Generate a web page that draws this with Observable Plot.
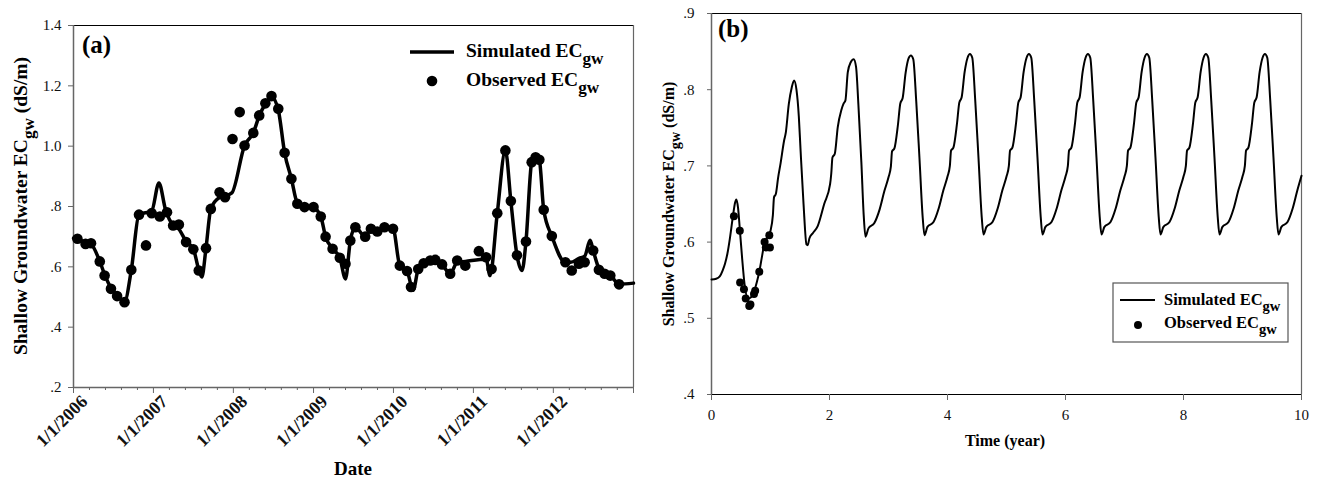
<!DOCTYPE html>
<html><head><meta charset="utf-8">
<script src="https://cdn.jsdelivr.net/npm/d3@7"></script>
<script src="https://cdn.jsdelivr.net/npm/@observablehq/plot@0.6"></script>
<style>
body{margin:0;background:#fff;}
#wrap{position:relative;width:1318px;height:479px;overflow:hidden;background:#fff;}
#pa{position:absolute;left:0;top:0;}
#pb{position:absolute;left:660px;top:0;}
#wrap svg, #wrap svg text{font-family:"Liberation Serif","Times New Roman",serif !important;}
</style></head><body><div id="wrap"><div id="pa"></div><div id="pb"></div></div>
<script>
// ---------- Panel (a) data ----------
const simDatesA = ["2006-01-01","2006-01-19","2006-02-25","2006-03-22","2006-05-01","2006-05-23","2006-06-21","2006-07-19","2006-08-22","2006-09-22","2006-10-27","2006-12-24","2007-01-26","2007-02-25","2007-04-01","2007-04-27","2007-05-30","2007-07-02","2007-07-27","2007-08-10","2007-08-29","2007-09-20","2007-10-30","2007-11-24","2007-12-25","2008-02-21","2008-04-01","2008-04-28","2008-05-26","2008-06-23","2008-07-24","2008-08-22","2008-09-22","2008-10-19","2008-11-21","2009-01-01","2009-02-03","2009-02-25","2009-03-29","2009-05-01","2009-05-27","2009-06-18","2009-07-11","2009-08-25","2009-09-20","2009-10-19","2009-11-21","2009-12-30","2010-01-30","2010-03-04","2010-04-01","2010-04-24","2010-05-19","2010-06-18","2010-07-11","2010-08-11","2010-09-17","2010-10-19","2010-11-25","2011-02-28","2011-03-18","2011-04-20","2011-05-27","2011-06-21","2011-07-19","2011-08-11","2011-08-29","2011-09-24","2011-10-12","2011-10-29","2011-11-18","2011-12-25","2012-02-25","2012-03-20","2012-04-27","2012-05-23","2012-06-17","2012-07-01","2012-07-27","2012-08-22","2012-09-17","2012-10-27","2013-01-01"];
const simValuesA = [0.695,0.693,0.680,0.675,0.618,0.575,0.530,0.505,0.485,0.590,0.773,0.785,0.878,0.790,0.737,0.725,0.685,0.660,0.590,0.566,0.662,0.792,0.830,0.835,0.845,1.002,1.044,1.100,1.140,1.163,1.120,0.978,0.892,0.812,0.798,0.795,0.767,0.700,0.660,0.630,0.560,0.687,0.731,0.700,0.726,0.710,0.727,0.726,0.604,0.586,0.522,0.593,0.612,0.621,0.623,0.608,0.577,0.615,0.618,0.625,0.571,0.778,0.986,0.818,0.638,0.588,0.684,0.947,0.970,0.955,0.789,0.702,0.615,0.615,0.628,0.635,0.688,0.654,0.595,0.577,0.571,0.543,0.546];
const obsDatesA = ["2006-01-19","2006-02-25","2006-03-22","2006-05-01","2006-05-23","2006-06-21","2006-07-19","2006-08-22","2006-09-22","2006-10-27","2006-11-28","2006-12-24","2007-01-30","2007-03-04","2007-04-01","2007-04-27","2007-05-30","2007-07-02","2007-07-27","2007-08-29","2007-09-20","2007-10-30","2007-11-24","2007-12-28","2008-01-30","2008-02-21","2008-04-01","2008-04-28","2008-05-26","2008-06-23","2008-07-24","2008-08-22","2008-09-22","2008-10-19","2008-11-21","2009-01-01","2009-02-03","2009-02-25","2009-03-29","2009-05-01","2009-05-27","2009-06-18","2009-07-11","2009-08-25","2009-09-20","2009-10-19","2009-11-21","2009-12-30","2010-01-30","2010-03-04","2010-03-22","2010-04-24","2010-05-19","2010-06-18","2010-07-11","2010-08-11","2010-09-17","2010-10-19","2010-11-25","2011-01-26","2011-02-28","2011-03-25","2011-04-20","2011-05-27","2011-06-21","2011-07-19","2011-08-29","2011-09-24","2011-10-12","2011-10-29","2011-11-18","2011-12-25","2012-02-25","2012-03-25","2012-04-27","2012-05-23","2012-07-01","2012-07-27","2012-08-22","2012-09-17","2012-10-27"];
const obsValuesA = [0.693,0.676,0.678,0.618,0.571,0.527,0.503,0.483,0.590,0.773,0.671,0.778,0.767,0.781,0.737,0.740,0.682,0.658,0.588,0.662,0.792,0.847,0.831,1.024,1.113,1.002,1.044,1.102,1.142,1.166,1.124,0.978,0.892,0.809,0.798,0.798,0.767,0.700,0.660,0.630,0.610,0.687,0.731,0.700,0.726,0.717,0.731,0.726,0.604,0.586,0.533,0.593,0.612,0.621,0.623,0.608,0.577,0.621,0.604,0.652,0.632,0.593,0.778,0.986,0.818,0.638,0.684,0.947,0.963,0.955,0.789,0.702,0.615,0.588,0.610,0.615,0.654,0.590,0.577,0.571,0.542];
const xTickDatesA = ["2006-01-01","2007-01-01","2008-01-01","2009-01-01","2010-01-01","2011-01-01","2012-01-01","2013-01-01"];
const xTickLabelsA = ["1/1/2006","1/1/2007","1/1/2008","1/1/2009","1/1/2010","1/1/2011","1/1/2012",""];
const yTicksA = [0.2,0.4,0.6,0.8,1.0,1.2,1.4];
const yTickLabelsA = [".2",".4",".6",".8","1.0","1.2","1.4"];

// ---------- Panel (b) data ----------
const simTimeB = [
 0,0.08,0.14,0.19,0.23,0.27,0.31,0.36,0.40,0.42,0.45,0.48,0.52,0.56,0.62,0.66,0.72,0.77,0.81,0.86,0.90,0.95,1.00,1.04,1.06,1.09,1.13,1.17,1.23,1.26,1.31,1.36,1.40,1.44,1.48,1.51,1.56,1.61,1.63,
 1.66,1.72,1.80,1.91,2.01,2.03,2.05,2.09,2.14,2.20,2.24,2.27,2.31,2.36,2.41,2.45,2.49,2.54,2.58,2.61,
 2.66,2.76,2.85,2.93,3.00,3.04,3.06,3.10,3.16,3.20,3.24,3.29,3.34,3.38,3.42,3.47,3.525,3.58,3.61,
 3.66,3.76,3.85,3.93,4.00,4.04,4.06,4.10,4.16,4.20,4.24,4.29,4.34,4.38,4.42,4.47,4.525,4.58,4.61,
 4.66,4.76,4.85,4.93,5.00,5.04,5.06,5.10,5.16,5.20,5.24,5.29,5.34,5.38,5.42,5.47,5.525,5.58,5.61,
 5.66,5.76,5.85,5.93,6.00,6.04,6.06,6.10,6.16,6.20,6.24,6.29,6.34,6.38,6.42,6.47,6.525,6.58,6.61,
 6.66,6.76,6.85,6.93,7.00,7.04,7.06,7.10,7.16,7.20,7.24,7.29,7.34,7.38,7.42,7.47,7.525,7.58,7.61,
 7.66,7.76,7.85,7.93,8.00,8.04,8.06,8.10,8.16,8.20,8.24,8.29,8.34,8.38,8.42,8.47,8.525,8.58,8.61,
 8.66,8.76,8.85,8.93,9.00,9.04,9.06,9.10,9.16,9.20,9.24,9.29,9.34,9.38,9.42,9.47,9.525,9.58,9.61,
 9.66,9.76,9.85,9.93,10.00];
const simValuesB = [
 0.551,0.552,0.555,0.563,0.572,0.585,0.604,0.632,0.652,0.656,0.645,0.617,0.578,0.545,0.526,0.527,0.535,0.548,0.561,0.583,0.600,0.607,0.615,0.635,0.659,0.663,0.685,0.703,0.733,0.744,0.781,0.803,0.812,0.800,0.765,0.720,0.650,0.597,0.596,
 0.605,0.612,0.621,0.650,0.676,0.690,0.711,0.716,0.751,0.773,0.782,0.786,0.823,0.836,0.840,0.830,0.780,0.705,0.635,0.607,
 0.618,0.625,0.643,0.667,0.685,0.699,0.719,0.723,0.754,0.782,0.789,0.822,0.841,0.845,0.840,0.785,0.710,0.632,0.609,
 0.620,0.626,0.644,0.668,0.686,0.700,0.720,0.724,0.755,0.783,0.790,0.823,0.842,0.847,0.842,0.786,0.711,0.633,0.610,
 0.620,0.626,0.644,0.668,0.686,0.700,0.720,0.724,0.755,0.783,0.790,0.823,0.842,0.847,0.842,0.786,0.711,0.633,0.610,
 0.620,0.626,0.644,0.668,0.686,0.700,0.720,0.724,0.755,0.783,0.790,0.823,0.842,0.847,0.842,0.786,0.711,0.633,0.610,
 0.620,0.626,0.644,0.668,0.686,0.700,0.720,0.724,0.755,0.783,0.790,0.823,0.842,0.847,0.842,0.786,0.711,0.633,0.610,
 0.620,0.626,0.644,0.668,0.686,0.700,0.720,0.724,0.755,0.783,0.790,0.823,0.842,0.847,0.842,0.786,0.711,0.633,0.610,
 0.620,0.626,0.644,0.668,0.686,0.700,0.720,0.724,0.755,0.783,0.790,0.823,0.842,0.847,0.842,0.786,0.711,0.633,0.610,
 0.620,0.626,0.644,0.668,0.687];
const obsTimeB = [0.38,0.48,0.485,0.55,0.58,0.64,0.66,0.72,0.74,0.81,0.90,0.92,0.98,0.99];
const obsValuesB = [0.634,0.615,0.547,0.538,0.526,0.516,0.518,0.532,0.536,0.561,0.600,0.593,0.609,0.593];
const xTicksB = [0,2,4,6,8,10];
const yTicksB = [0.4,0.5,0.6,0.7,0.8,0.9];
const yTickLabelsB = [".4",".5",".6",".7",".8",".9"];

const seriesNames = ["Simulated EC", "Observed EC"];
const subName = "gw";

// ---------- build ----------
const FONT = "Liberation Serif, Times New Roman, serif";
const parse = d3.utcParse("%Y-%m-%d");
const simA = simDatesA.map((d,i)=>({date: parse(d), v: simValuesA[i]}));
const obsA = obsDatesA.map((d,i)=>({date: parse(d), v: obsValuesA[i]}));
const xTickA = xTickDatesA.map((d,i)=>({date: parse(d), label: xTickLabelsA[i]}));
const x0 = parse(xTickDatesA[0]), x1 = parse(xTickDatesA[xTickDatesA.length-1]);
const minorA = [];
for (let y = 2006; y < 2013; y++) for (let k = 1; k < 5; k++) minorA.push(new Date(Date.UTC(y,0,1) + k*73*86400000));
const yLabA = new Map(yTicksA.map((d,i)=>[d, yTickLabelsA[i]]));
const AX = "#666";

const plotA = Plot.plot({
  width: 650, height: 479,
  marginLeft: 73, marginTop: 25, marginRight: 17, marginBottom: 92,
  style: {fontFamily: FONT, background: "white", color: "#111", overflow: "visible"},
  x: {type: "utc", domain: [x0, x1]},
  y: {domain: [0.2, 1.4]},
  marks: [
    Plot.ruleY([1.4], {stroke: "black", strokeWidth: 1.2}),
    Plot.ruleX([x1], {stroke: AX, strokeWidth: 1.2}),
    Plot.ruleX([x0], {stroke: AX, strokeWidth: 1.5}),
    Plot.ruleY([0.2], {stroke: AX, strokeWidth: 1.5}),
    Plot.axisY({ticks: yTicksA, tickFormat: d => yLabA.get(d), tickSize: 5, tickPadding: 7, fontSize: 15, stroke: AX, label: null}),
    Plot.axisX({ticks: xTickA.map(d=>d.date), tickFormat: () => "", tickSize: 6, stroke: AX, label: null}),
    Plot.axisX({ticks: minorA, tickFormat: () => "", tickSize: 3, stroke: AX, label: null}),
    Plot.text(xTickA.filter(d=>d.label), {x: "date", text: "label", frameAnchor: "bottom", rotate: -45, textAnchor: "end", lineAnchor: "middle", dx: 11, dy: 11, fontSize: 18, fontWeight: "bold", fill: "#111"}),
    Plot.line(simA, {x: "date", y: "v", stroke: "black", strokeWidth: 3.5, curve: "monotone-x"}),
    Plot.dot(obsA, {x: "date", y: "v", r: 5.3, fill: "black", stroke: "none"})
  ]
});
document.getElementById("pa").appendChild(plotA);

const simB = simTimeB.map((t,i)=>({t, v: simValuesB[i]}));
const obsB = obsTimeB.map((t,i)=>({t, v: obsValuesB[i]}));
const yLabB = new Map(yTicksB.map((d,i)=>[d, yTickLabelsB[i]]));
const plotB = Plot.plot({
  width: 658, height: 479,
  marginLeft: 51, marginTop: 13, marginRight: 17, marginBottom: 85,
  style: {fontFamily: FONT, background: "white", color: "#111", overflow: "visible"},
  x: {domain: [0, 10]},
  y: {domain: [0.4, 0.9]},
  marks: [
    Plot.ruleY([0.9], {stroke: "black", strokeWidth: 1.2}),
    Plot.ruleX([10], {stroke: AX, strokeWidth: 1.2}),
    Plot.ruleX([0], {stroke: AX, strokeWidth: 1.5}),
    Plot.ruleY([0.4], {stroke: "black", strokeWidth: 1.2}),
    Plot.axisY({ticks: yTicksB, tickFormat: d => yLabB.get(d), tickSize: 4, tickPadding: 13, fontSize: 15, stroke: AX, label: null}),
    Plot.axisX({ticks: xTicksB, tickFormat: d => String(d), tickSize: 6, tickPadding: 9, fontSize: 15, stroke: AX, label: null}),
    Plot.line(simB, {x: "t", y: "v", stroke: "black", strokeWidth: 2, curve: "monotone-x"}),
    Plot.dot(obsB, {x: "t", y: "v", r: 4, fill: "black", stroke: "none"})
  ]
});
document.getElementById("pb").appendChild(plotB);

// ---------- annotations (titles, legends) ----------
function subText(svg, o) {
  const t = d3.select(svg).append("text")
    .attr("transform", `translate(${o.x},${o.y}) rotate(${o.rotate||0})`)
    .attr("text-anchor", o.anchor || "start")
    .attr("font-family", FONT).attr("font-weight", "bold")
    .attr("font-size", o.size).attr("fill", "black");
  t.append("tspan").text(o.main);
  if (o.sub) {
    t.append("tspan").attr("dy", o.size*0.36).attr("font-size", o.size*0.88).text(o.sub);
    if (o.after) t.append("tspan").attr("dy", -o.size*0.36).text(o.after);
  }
  return t;
}
// panel a
subText(plotA, {x: 82, y: 53, size: 25, main: "(a)"});
subText(plotA, {x: 27, y: 206, size: 19.5, rotate: -90, anchor: "middle", main: "Shallow Groundwater EC", sub: subName, after: " (dS/m)"});
subText(plotA, {x: 353, y: 475, size: 19, anchor: "middle", main: "Date"});
d3.select(plotA).append("line").attr("x1", 410).attr("x2", 454).attr("y1", 52).attr("y2", 52).attr("stroke", "black").attr("stroke-width", 3.5);
d3.select(plotA).append("circle").attr("cx", 432).attr("cy", 81).attr("r", 5.3).attr("fill", "black");
subText(plotA, {x: 466, y: 57, size: 19.5, main: seriesNames[0], sub: subName});
subText(plotA, {x: 466, y: 86, size: 19.5, main: seriesNames[1], sub: subName});
// panel b
subText(plotB, {x: 58, y: 37, size: 25, main: "(b)"});
subText(plotB, {x: 14, y: 204, size: 16, rotate: -90, anchor: "middle", main: "Shallow Groundwater EC", sub: subName, after: " (dS/m)"});
subText(plotB, {x: 345, y: 446, size: 16, anchor: "middle", main: "Time (year)"});
d3.select(plotB).append("rect").attr("x", 453).attr("y", 283).attr("width", 175).attr("height", 59).attr("fill", "white").attr("stroke", "#555").attr("stroke-width", 1.2);
d3.select(plotB).append("line").attr("x1", 460).attr("x2", 495).attr("y1", 300).attr("y2", 300).attr("stroke", "black").attr("stroke-width", 2);
d3.select(plotB).append("circle").attr("cx", 478).attr("cy", 325).attr("r", 4).attr("fill", "black");
subText(plotB, {x: 504, y: 305, size: 16.5, main: seriesNames[0], sub: subName});
subText(plotB, {x: 504, y: 328, size: 16.5, main: seriesNames[1], sub: subName});
</script></body></html>
